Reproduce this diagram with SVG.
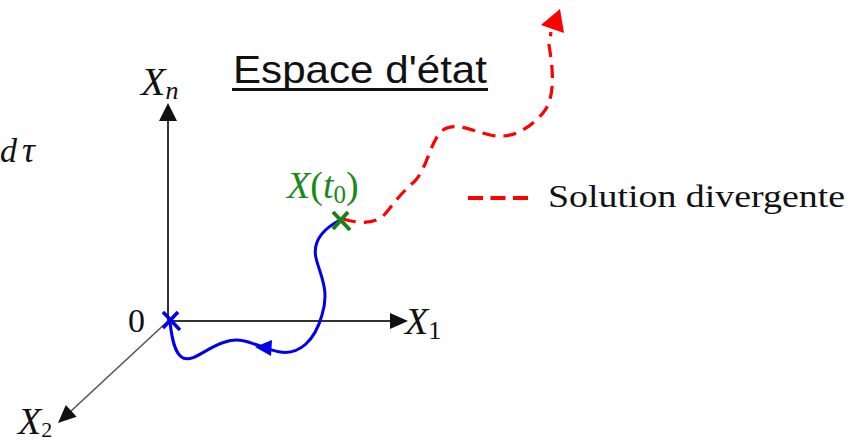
<svg xmlns="http://www.w3.org/2000/svg" width="859" height="444" viewBox="0 0 859 444">
<style>
.math{font-family:"Liberation Serif","Times New Roman",serif;font-style:italic;fill:#111}
.rom{font-family:"Liberation Serif","Times New Roman",serif;fill:#111}
.sub{font-style:normal}
.axis{stroke:#333;stroke-width:2;fill:none}
.ah{fill:#111}
.blue{stroke:#0000ee;stroke-width:3;fill:none}
.red{stroke:#ff0000;stroke-width:3.2;fill:none;stroke-dasharray:13 8}
</style>
<rect width="859" height="444" fill="#ffffff"/>
<g id="title">
<text x="233" y="83" font-family="'Liberation Sans',Arial,sans-serif" font-size="39" fill="#111" textLength="254" lengthAdjust="spacingAndGlyphs">Espace d'état</text>
<rect x="232" y="88" width="256" height="3" fill="#111"/>
</g>
<g id="dtau"><text class="math" x="0" y="162" font-size="34">d<tspan dx="5" font-size="36">τ</tspan></text></g>
<g id="axis-xn">
<line class="axis" x1="168" y1="321" x2="168" y2="118"/>
<polygon class="ah" points="168,103 159,121 177,121"/>
<text class="math" x="141" y="95" font-size="40">X<tspan font-size="26" dy="4">n</tspan></text>
</g>
<g id="axis-x1">
<line class="axis" x1="168" y1="321" x2="392" y2="321"/>
<polygon class="ah" points="408,321 390,313 390,329"/>
<text class="math" x="405" y="334" font-size="38">X<tspan class="sub" font-size="26" dy="5">1</tspan></text>
</g>
<g id="axis-x2">
<line x1="168" y1="321" x2="70" y2="412" stroke="#555" stroke-width="1.6"/>
<polygon class="ah" points="58,423 65.8,404.9 76.6,416.7"/>
<text class="math" x="18" y="434" font-size="38">X<tspan class="sub" font-size="22" dy="3">2</tspan></text>
</g>
<g id="origin">
<text class="rom" x="128" y="332" font-size="34">0</text>
<path d="M163,312 L180,330 M178,312 L163,328" stroke="#0000ee" stroke-width="3.5" fill="none"/>
</g>
<g id="connectors">
<path class="blue" d="M340,220 C325,228 312,240 316,258 C320,275 330,290 322,315 C315,340 300,355 280,352 C260,349 245,335 225,342 C205,348 195,362 183,358 C175,354 172,340 170,322"/>
<polygon points="255,347 272,340 271,356" fill="#0000ee"/>
<path class="red" d="M343,219 C360,224 376,224 385,214 C395,202 402,192 414,182 C428,168 430,140 443,130 C455,122 470,130 490,135 C512,140 530,128 543,113 C556,97 553,70 549,45 L551,32"/>
<polygon points="560,9 541,25 564,33" fill="#ff0000"/>
</g>
<g id="x0">
<path d="M333,212 L350,230 M348,212 L333,229" stroke="#1a7f1a" stroke-width="4" fill="none"/>
<text x="287" y="198" font-family="'Liberation Serif','Times New Roman',serif" font-size="38" fill="#1a8a1a"><tspan font-style="italic">X</tspan>(<tspan font-style="italic">t</tspan><tspan font-size="25" dy="5">0</tspan><tspan dy="-5">)</tspan></text>
</g>
<g id="legend">
<line x1="468" y1="198" x2="528" y2="198" stroke="#ff0000" stroke-width="4" stroke-dasharray="15 7.5"/>
<text class="rom" x="548" y="207" font-size="31" textLength="297" lengthAdjust="spacingAndGlyphs">Solution divergente</text>
</g>
</svg>
